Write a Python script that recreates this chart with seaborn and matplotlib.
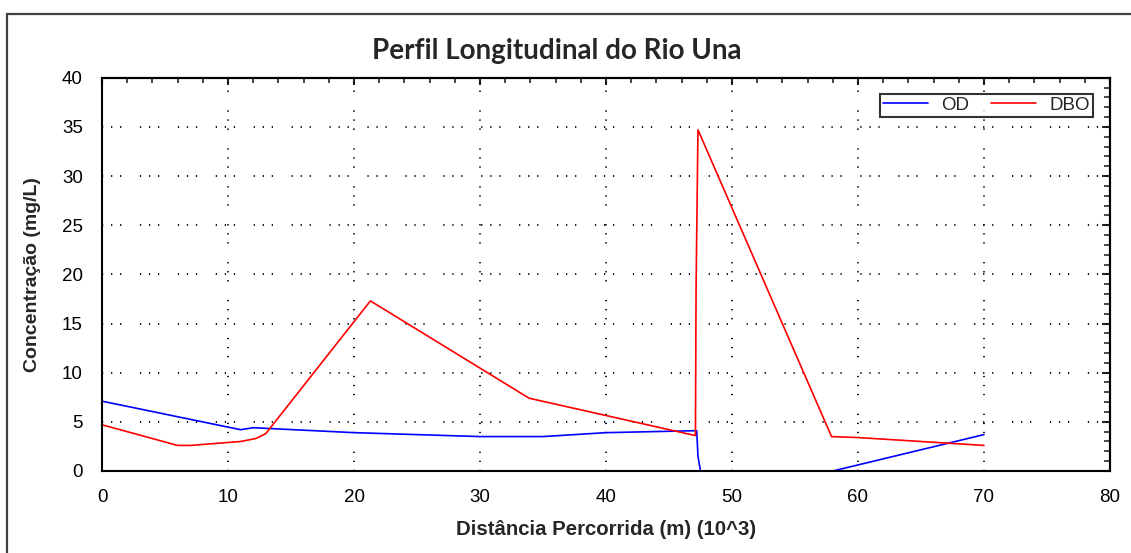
import numpy as np
import pandas as pd
import matplotlib
matplotlib.use("Agg")
import matplotlib.pyplot as plt
from matplotlib.patches import Rectangle
from matplotlib.ticker import MultipleLocator
import seaborn as sns

# === data (distance in 10^3 m, concentration in mg/L) ===
od_x = [0, 11.0, 12.0, 20, 30, 35, 40, 47.2, 47.3, 47.5, 58.0, 70.0]
od_y = [7.1, 4.2, 4.4, 3.9, 3.5, 3.5, 3.9, 4.1, 1.5, 0.0, 0.0, 3.7]
od_seg = [0, 0, 0, 0, 0, 0, 0, 0, 0, 0, 1, 1]

dbo_x = [0, 6.0, 7.0, 11.0, 12.2, 13.0, 21.3, 33.9, 47.1, 47.15, 47.3, 57.9, 60.0, 70.0]
dbo_y = [4.7, 2.6, 2.6, 3.0, 3.3, 3.8, 17.3, 7.4, 3.6, 18.6, 34.7, 3.5, 3.4, 2.6]

od = pd.DataFrame({"x": od_x, "y": od_y, "seg": od_seg})
dbo = pd.DataFrame({"x": dbo_x, "y": dbo_y})

sns.set_style("white")
plt.rcParams["font.family"] = ["Liberation Sans", "DejaVu Sans"]

fig = plt.figure(figsize=(11.31, 5.53), dpi=100)
ax = fig.add_axes([0.0902, 0.1483, 0.8912, 0.7112])

sns.lineplot(data=od, x="x", y="y", units="seg", estimator=None, sort=False,
             color="#0000ff", lw=1.2, label="OD", ax=ax)
sns.lineplot(data=dbo, x="x", y="y", estimator=None, sort=False,
             color="#ff0000", lw=1.2, label="DBO", ax=ax)

ax.set_xlim(0, 80)
ax.set_ylim(0, 40)
ax.xaxis.set_major_locator(MultipleLocator(10))
ax.xaxis.set_minor_locator(MultipleLocator(2))
ax.yaxis.set_major_locator(MultipleLocator(5))
ax.yaxis.set_minor_locator(MultipleLocator(1))

# left / bottom ticks cross the axis
ax.tick_params(axis="both", which="major", direction="inout", length=9.5, width=1.5,
               labelsize=13.5, colors="black")
ax.tick_params(axis="both", which="minor", direction="inout", length=6.5, width=1.2)
ax.tick_params(axis="x", which="major", pad=8)
ax.tick_params(axis="y", which="major", pad=9)

# top / right ticks point inwards only
top = ax.secondary_xaxis("top")
top.xaxis.set_major_locator(MultipleLocator(10))
top.xaxis.set_minor_locator(MultipleLocator(2))
top.tick_params(which="major", direction="in", length=5, width=1.5, labeltop=False)
top.tick_params(which="minor", direction="in", length=3.5, width=1.2)
right = ax.secondary_yaxis("right")
right.yaxis.set_major_locator(MultipleLocator(5))
right.yaxis.set_minor_locator(MultipleLocator(1))
right.tick_params(which="major", direction="in", length=6, width=1.5, labelright=False)
right.tick_params(which="minor", direction="in", length=4, width=1.2)
for sec in (top, right):
    for s in sec.spines.values():
        s.set_color("black")
        s.set_linewidth(1.5)

for s in ax.spines.values():
    s.set_visible(True)
    s.set_color("black")
    s.set_linewidth(1.5)

ax.grid(True, which="major", color="black", lw=1.3,
        linestyle=(0, (0.7, 4.3, 0.7, 4.3, 0.7, 10.3)))

ax.set_xlabel("Distância Percorrida (m) (10^3)", fontsize=14.7, fontweight="bold", labelpad=10)
ax.set_ylabel("Concentração (mg/L)", fontsize=14, fontweight="bold", labelpad=15)
fig.text(0.4925, 0.907, "Perfil Longitudinal do Rio Una", ha="center", va="center",
         fontsize=20, fontweight="bold", family=["Lato", "DejaVu Sans"])

handles, labels = ax.get_legend_handles_labels()
uniq = dict(zip(labels, handles))
leg = ax.legend(list(uniq.values()), list(uniq.keys()),
                loc="upper right", bbox_to_anchor=(0.983, 0.959), borderaxespad=0,
                ncol=2, fontsize=13.5, frameon=True, fancybox=False,
                handlelength=2.4, handletextpad=0.7, columnspacing=1.2,
                borderpad=0.15)
leg.get_frame().set_edgecolor("black")
leg.get_frame().set_linewidth(1.5)

# outer frame, cut at the right and bottom edges like the reference
fig.patches.append(Rectangle((7 / 1131, -0.1), 1.2, 0.1 + 1 - 14 / 553,
                             transform=fig.transFigure, fill=False,
                             edgecolor="#404040", lw=1.6))

fig.savefig("out.png", dpi=100)
